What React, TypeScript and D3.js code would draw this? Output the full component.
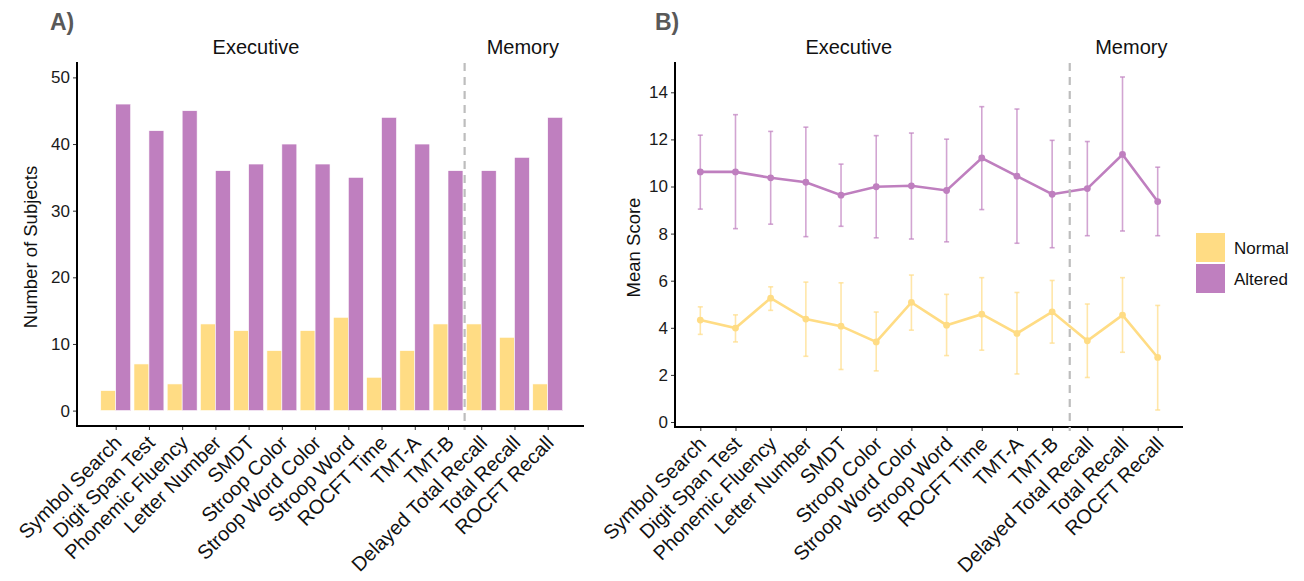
import React, { useEffect, useRef } from 'react';
import * as d3 from 'd3';

const categories = [
  'Symbol Search', 'Digit Span Test', 'Phonemic Fluency', 'Letter Number', 'SMDT',
  'Stroop Color', 'Stroop Word Color', 'Stroop Word', 'ROCFT Time', 'TMT-A', 'TMT-B',
  'Delayed Total Recall', 'Total Recall', 'ROCFT Recall',
];
const groups = ['Normal', 'Altered'];
const domainsLabels = ['Executive', 'Memory'];
const countNormal = [3, 7, 4, 13, 12, 9, 12, 14, 5, 9, 13, 13, 11, 4];
const countAltered = [46, 42, 45, 36, 37, 40, 37, 35, 44, 40, 36, 36, 38, 44];
const meanNormal = [4.33, 3.99, 5.26, 4.37, 4.07, 3.4, 5.08, 4.11, 4.58, 3.76, 4.68, 3.45, 4.54, 2.74];
const lowNormal = [3.72, 3.4, 4.74, 2.79, 2.23, 2.17, 3.9, 2.82, 3.05, 2.04, 3.35, 1.89, 2.96, 0.51];
const highNormal = [4.89, 4.55, 5.74, 5.94, 5.91, 4.67, 6.24, 5.42, 6.13, 5.5, 6.01, 5.01, 6.13, 4.95];
const meanAltered = [10.62, 10.62, 10.37, 10.18, 9.63, 9.99, 10.03, 9.83, 11.21, 10.44, 9.67, 9.91, 11.36, 9.36];
const lowAltered = [9.04, 8.21, 8.4, 7.87, 8.31, 7.82, 7.77, 7.65, 9.02, 7.59, 7.4, 7.91, 8.11, 7.91];
const highAltered = [12.18, 13.05, 12.34, 12.52, 10.95, 12.16, 12.27, 12.01, 13.39, 13.29, 11.96, 11.91, 14.65, 10.82];
const countTicks = [0, 10, 20, 30, 40, 50];
const scoreTicks = [0, 2, 4, 6, 8, 10, 12, 14];

const COLORS: Record<string, string> = { Normal: '#FFDC84', Altered: '#BF7FBF' };
const FONT = "'Liberation Sans', Arial, Helvetica, sans-serif";

export default function App() {
  const ref = useRef<SVGSVGElement | null>(null);

  useEffect(() => {
    const svg = d3.select(ref.current);
    svg.selectAll('*').remove();
    svg.attr('font-family', FONT);

    const drawFrame = (
      g: d3.Selection<SVGGElement, unknown, null, undefined>,
      x: d3.ScalePoint<string>,
      y: d3.ScaleLinear<number, number>,
      ticks: number[],
      left: number,
      right: number,
      top: number,
      bottom: number,
      title: string,
      titleX: number,
      tag: string,
      tagX: number,
    ) => {
      // y axis
      const yAxis = d3.axisLeft(y).tickValues(ticks).tickSize(4).tickPadding(3).tickSizeOuter(0);
      const ya = g.append('g').attr('transform', `translate(${left},0)`).call(yAxis);
      ya.select('.domain').remove();
      ya.selectAll('text').attr('font-size', 17).attr('fill', '#1a1a1a').attr('font-family', FONT);
      ya.selectAll('line').attr('stroke', '#333').attr('stroke-width', 1);
      g.append('line').attr('x1', left).attr('x2', left).attr('y1', top).attr('y2', bottom + 1)
        .attr('stroke', '#000').attr('stroke-width', 2);
      // x axis
      const xAxis = d3.axisBottom(x).tickSize(4).tickSizeOuter(0).tickFormat(() => '');
      const xa = g.append('g').attr('transform', `translate(0,${bottom})`).call(xAxis);
      xa.select('.domain').remove();
      xa.selectAll('line').attr('stroke', '#333').attr('stroke-width', 1);
      g.append('line').attr('x1', left - 1).attr('x2', right).attr('y1', bottom).attr('y2', bottom)
        .attr('stroke', '#000').attr('stroke-width', 2);
      g.append('g').selectAll('text').data(categories).join('text')
        .attr('transform', (d) => `translate(${(x(d) as number) - 3},${bottom + 8}) rotate(-45)`)
        .attr('text-anchor', 'end').attr('dy', '0.72em')
        .attr('font-size', 20).attr('fill', '#111').text((d) => d);
      // title
      g.append('text').attr('transform', `translate(${titleX},${(top + bottom) / 2 + 3}) rotate(-90)`)
        .attr('text-anchor', 'middle').attr('font-size', 18.5).attr('fill', '#111').text(title);
      // tag
      g.append('text').attr('x', tagX).attr('y', 30).attr('font-size', 23).attr('font-weight', 'bold')
        .attr('fill', '#595959').text(tag);
      // domain labels
      const step = x.step();
      const positions = [x(categories[0])! + 4.22 * step, x(categories[0])! + 12.25 * step];
      g.append('g').selectAll('text').data(domainsLabels).join('text')
        .attr('x', (_d, i) => positions[i]).attr('y', 54).attr('text-anchor', 'middle')
        .attr('font-size', 20).attr('fill', '#111').text((d) => d);
      // dashed separator
      const sepX = ((x('TMT-B') as number) + (x('Delayed Total Recall') as number)) / 2;
      g.append('line').attr('x1', sepX).attr('x2', sepX).attr('y1', top + 1).attr('y2', bottom + 4)
        .attr('stroke', '#BDBDBD').attr('stroke-width', 2.2).attr('stroke-dasharray', '8,6');
    };

    // ---------------- Panel A ----------------
    const gA = svg.append('g');
    const xA = d3.scalePoint<string>().domain(categories).range([115.7, 547.7]);
    const yA = d3.scaleLinear().domain([0, 50]).range([410.6, 77.4]);
    const bw = xA.step() * 0.45;
    const sub = d3.scaleBand<string>().domain(groups).range([-bw, bw]).padding(0);
    const countSeries: Record<string, number[]> = { Normal: countNormal, Altered: countAltered };
    groups.forEach((grp) => {
      gA.append('g').selectAll('rect').data(categories).join('rect')
        .attr('x', (d) => (xA(d) as number) + (sub(grp) as number))
        .attr('width', sub.bandwidth())
        .attr('y', (_d, i) => yA(countSeries[grp][i]))
        .attr('height', (_d, i) => yA(0) - yA(countSeries[grp][i]))
        .attr('fill', COLORS[grp]).attr('stroke', '#fff').attr('stroke-width', 0.6);
    });
    drawFrame(gA, xA, yA, countTicks, 77, 584, 62, 426, 'Number of Subjects', 37, 'A)', 50);

    // ---------------- Panel B ----------------
    const gB = svg.append('g');
    const xB = d3.scalePoint<string>().domain(categories).range([700.3, 1157.7]);
    const yB = d3.scaleLinear().domain([0, 14]).range([422, 92.3]);
    const series = [
      { grp: 'Normal', mean: meanNormal, low: lowNormal, high: highNormal },
      { grp: 'Altered', mean: meanAltered, low: lowAltered, high: highAltered },
    ];
    series.forEach((s) => {
      const c = COLORS[s.grp];
      const eb = gB.append('g').attr('stroke', c).attr('stroke-opacity', 0.7).attr('stroke-width', 1.6);
      categories.forEach((cat, i) => {
        const cx = xB(cat) as number;
        eb.append('line').attr('x1', cx).attr('x2', cx).attr('y1', yB(s.low[i])).attr('y2', yB(s.high[i]));
        eb.append('line').attr('x1', cx - 2.5).attr('x2', cx + 2.5).attr('y1', yB(s.low[i])).attr('y2', yB(s.low[i]));
        eb.append('line').attr('x1', cx - 2.5).attr('x2', cx + 2.5).attr('y1', yB(s.high[i])).attr('y2', yB(s.high[i]));
      });
      const line = d3.line<number>().x((_d, i) => xB(categories[i]) as number).y((d) => yB(d));
      gB.append('path').attr('d', line(s.mean)).attr('fill', 'none').attr('stroke', c).attr('stroke-width', 2.6);
      gB.append('g').selectAll('circle').data(s.mean).join('circle')
        .attr('cx', (_d, i) => xB(categories[i]) as number).attr('cy', (d) => yB(d)).attr('r', 3.4).attr('fill', c);
    });
    drawFrame(gB, xB, yB, scoreTicks, 675, 1183, 62, 427, 'Mean Score', 640, 'B)', 655);

    // legend
    const lg = svg.append('g');
    groups.forEach((grp, i) => {
      lg.append('rect').attr('x', 1196).attr('y', 233 + i * 31).attr('width', 29).attr('height', 29)
        .attr('fill', COLORS[grp]);
      lg.append('text').attr('x', 1234).attr('y', 248 + i * 31).attr('dy', '0.36em')
        .attr('font-size', 17).attr('fill', '#111').text(grp);
    });
  }, []);

  return (
    <svg ref={ref} width={1304} height={581}
      style={{ position: 'absolute', left: 0, top: 0, background: '#fff' }} />
  );
}
